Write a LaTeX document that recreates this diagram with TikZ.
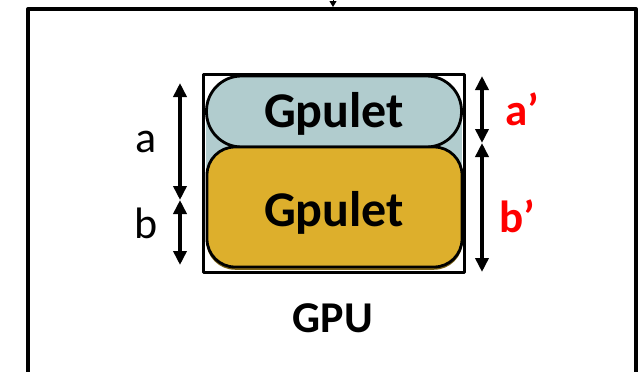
\documentclass[tikz,border=0pt]{standalone}
\usepackage{fontspec}
\setmainfont{Carlito}
\usetikzlibrary{arrows.meta}
\definecolor{gpuletblue}{HTML}{B1CCCE}
\definecolor{gpuletgold}{HTML}{DDAF2C}
\definecolor{gpuletshade}{HTML}{7A6014}

\begin{document}
\begin{tikzpicture}[x=1pt,y=-1pt,>={Triangle[length=14pt,width=13pt]},line join=round,
  dimarrow/.style={<->,line width=3.5pt},
  gpuletbox/.style={draw,line width=2.8pt,minimum width=255pt,inner sep=0pt},
  gpulettext/.style={anchor=base,font=\fontsize{50}{60}\selectfont\bfseries},
  dimtext/.style={anchor=base,font=\fontsize{44}{52}\selectfont},
  newdimtext/.style={anchor=base,text=red,font=\fontsize{45}{54}\selectfont\bfseries}]
\useasboundingbox (0,0) rectangle (638,372);
\clip (0,0) rectangle (638,372);

%% ---------------- the host and the feed from above ----------------
\draw[line width=4pt] (28,390) -- (28,9) -- (636,9) -- (636,390);
\coordinate (feedTop) at (333,-12);
\coordinate (feedEnd) at (333,7);
\draw[-{Triangle[length=6pt,width=7pt]},line width=1pt] (feedTop) -- (feedEnd);

%% ---------------- the GPU and its two gpulets ----------------
\draw[line width=3pt] (203,74) rectangle (464,272);
%% backing of the upper share, seen beside the rounded ends
\fill[gpuletblue] (206,100) rectangle (462,200);
\node[gpuletbox,fill=gpuletblue,minimum height=71pt,rounded corners=35pt]
  (topGpulet) at (334,111.5) {};
\node[gpuletbox,line width=1.5pt,draw=gpuletshade,fill=gpuletgold,minimum height=120pt,rounded corners=28pt]
  (shadeGpulet) at (334.5,209) {};
\node[gpuletbox,fill=gpuletgold,minimum height=120pt,rounded corners=28pt]
  (bottomGpulet) at (334.5,207) {};
\node[gpulettext] (topGpuletText) at (334,127) {Gpulet};
\node[gpulettext] (bottomGpuletText) at (334,226) {Gpulet};
\node[anchor=base,font=\fontsize{44}{52}\selectfont\bfseries] (gpuText) at (333,332) {GPU};

%% ---------------- old split a, b on the left ----------------
\coordinate (aTop) at (180,83);
\coordinate (abMid) at (180,200);
\coordinate (bBot) at (180,265);
\draw[dimarrow] (aTop) -- (abMid);
\draw[dimarrow] (abMid) -- (bBot);
\node[dimtext] (aText) at (146,152) {a};
\node[dimtext] (bText) at (146,238) {b};

%% ---------------- new split a', b' on the right ----------------
\coordinate (aNewTop) at (482,76);
\coordinate (abNewMid) at (482,143);
\coordinate (bNewBot) at (482,272);
\draw[dimarrow] (aNewTop) -- (abNewMid);
\draw[dimarrow] (abNewMid) -- (bNewBot);
\node[newdimtext] (aNewText) at (522,125) {a’};
\node[newdimtext] (bNewText) at (517.5,232) {b’};

\end{tikzpicture}
\end{document}
